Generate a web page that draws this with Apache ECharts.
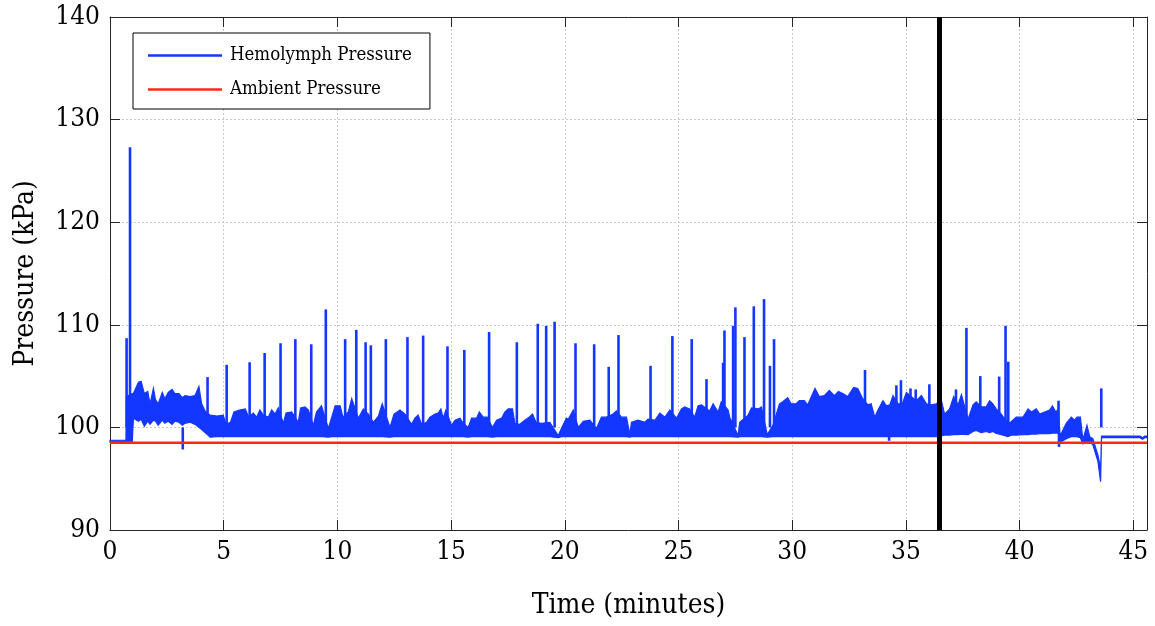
<!DOCTYPE html>
<html><head><meta charset="utf-8">
<script src="https://cdn.jsdelivr.net/npm/echarts@6/dist/echarts.min.js"></script>
<style>html,body{margin:0;padding:0;background:#fff}#c{width:1155px;height:626px}</style>
</head><body><div id="c"></div>
<script>
// Hemolymph pressure: band envelope (time in minutes, kPa)
const bandTime = [0.0,0.70,0.72,0.98,1.03,1.25,1.37,1.51,1.66,1.76,1.91,2.0,2.12,2.3,2.41,2.56,2.73,2.85,3.03,3.18,3.3,3.52,3.74,3.91,4.03,4.18,4.33,
4.4,4.7,4.98,5.1,5.3,5.45,5.7,5.95,6.1,6.3,6.45,6.59,6.74,6.96,7.11,7.26,7.4,7.62,7.74,7.99,8.28,8.38,8.57,8.72,8.94,9.08,9.3,9.6,9.75,9.9,
10.12,10.24,10.48,10.63,10.92,11.14,11.36,11.58,11.8,11.97,12.31,12.49,12.75,12.97,13.26,13.41,13.55,13.7,13.92,14.07,14.29,14.43,14.55,14.65,14.77,
15.02,15.17,15.39,15.53,15.75,15.9,16.12,16.24,16.41,16.59,16.82,17.0,17.22,17.36,17.51,17.7,17.8,18.02,18.24,18.43,18.58,18.73,18.97,19.34,19.71,19.85,
20.07,20.15,20.37,20.59,20.81,21.1,21.39,21.61,21.83,22.12,22.27,22.49,22.71,22.86,22.93,23.22,23.52,23.66,23.96,24.18,24.4,24.62,24.91,
25.13,25.27,25.49,25.71,25.86,26.01,26.37,26.52,26.74,26.88,27.18,27.25,27.62,27.69,28.06,28.21,28.5,28.65,28.9,29.15,29.44,29.58,29.8,29.95,
30.17,30.31,30.53,30.68,30.82,31.0,31.19,31.41,31.63,31.85,32.03,32.22,32.44,32.7,32.88,33.1,33.33,33.47,33.63,33.77,33.99,34.14,34.29,34.43,34.65,34.84,
35.02,35.24,35.46,35.68,35.9,36.12,36.34,36.56,36.7,36.92,37.1,37.29,37.44,37.73,37.95,38.09,38.31,38.53,38.68,38.82,38.97,39.19,39.48,39.63,39.85,
40.15,40.37,40.52,40.73,40.88,41.1,41.32,41.44,41.59,41.7,41.76,41.83,42.05,42.27,42.42,42.52,42.67,42.78,42.96,43.08,43.22,43.44,43.56,43.6,
45.3,45.4,45.5,45.6];
const bandHigh = [98.75,98.75,103.0,103.3,103.3,104.4,104.5,103.3,103.5,102.3,103.8,102.7,102.3,103.4,102.8,103.4,103.7,103.3,103.3,102.9,103.1,103.0,103.1,104.0,102.3,101.6,101.3,
101.2,101.1,101.2,100.3,100.5,101.5,101.7,101.8,101.0,101.4,101.0,101.7,101.2,101.0,101.7,101.3,101.9,100.4,101.4,101.5,100.5,101.9,102.0,101.7,100.2,101.5,102.1,99.9,101.0,102.1,
102.1,101.0,101.5,102.8,100.9,101.8,101.3,100.5,101.1,102.3,100.0,101.3,101.7,101.3,100.3,100.9,101.2,100.3,100.5,101.0,101.3,101.4,101.8,100.9,101.7,
100.2,100.7,100.9,100.4,100.0,100.9,100.9,101.5,101.0,101.0,100.0,100.7,100.9,101.5,101.8,101.8,100.4,100.3,100.7,101.0,101.3,100.5,100.4,100.5,99.2,99.9,
100.9,100.8,101.7,100.0,100.6,100.7,99.9,101.0,101.0,101.3,101.6,101.0,101.0,99.3,100.5,100.7,100.5,100.8,100.7,101.4,101.0,101.7,100.9,
101.8,102.0,101.8,101.0,102.1,102.2,101.6,102.3,101.5,102.5,101.7,101.0,99.2,100.5,101.2,101.9,101.8,102.0,99.3,100.2,102.3,102.5,102.9,102.3,
102.3,102.6,102.6,102.2,102.9,103.8,103.0,103.1,103.6,103.1,103.5,103.3,103.0,103.9,103.8,102.8,102.2,102.3,101.0,101.7,102.6,102.1,102.2,103.1,102.3,102.3,
103.4,103.0,102.6,103.1,102.3,102.2,102.3,102.6,101.3,101.8,103.0,102.2,103.2,100.8,102.2,102.5,102.0,102.0,102.6,102.3,101.8,101.3,100.4,100.55,101.0,
101.0,101.8,101.5,101.8,101.3,101.5,101.7,102.1,101.5,101.8,99.4,99.4,100.4,101.0,100.7,101.0,101.0,98.8,100.2,99.1,98.9,97.3,96.0,99.15,
99.15,99.0,99.15,99.15];
const bandLow = [98.55,98.55,98.6,98.6,100.9,100.6,100.8,100.1,100.6,100.3,100.7,100.6,100.2,100.7,100.4,100.6,100.3,100.6,100.5,100.2,100.4,100.5,100.3,100.0,99.8,99.5,99.2,
99.05,99.1,99.1,99.1,99.1,99.1,99.1,99.1,99.1,99.1,99.1,99.1,99.1,99.1,99.1,99.1,99.1,99.1,99.1,99.1,99.1,99.1,99.1,99.1,99.1,99.1,99.1,99.05,99.1,99.1,
99.1,99.1,99.1,99.1,99.1,99.1,99.1,99.1,99.1,99.1,99.05,99.1,99.1,99.1,99.1,99.1,99.1,99.1,99.1,99.1,99.1,99.1,99.1,99.1,99.1,
99.1,99.1,99.1,99.1,99.05,99.1,99.1,99.1,99.1,99.1,99.05,99.1,99.1,99.1,99.1,99.1,99.1,99.1,99.1,99.1,99.1,99.1,99.1,99.1,99.0,99.1,
99.1,99.1,99.1,99.1,99.1,99.1,99.1,99.1,99.1,99.1,99.1,99.1,99.1,99.05,99.1,99.1,99.1,99.1,99.1,99.1,99.1,99.1,99.1,
99.1,99.1,99.1,99.1,99.1,99.1,99.1,99.1,99.1,99.1,99.1,99.1,99.05,99.1,99.1,99.1,99.1,99.1,99.05,99.1,99.1,99.1,99.1,99.1,
99.1,99.1,99.1,99.1,99.1,99.1,99.1,99.1,99.1,99.1,99.1,99.1,99.1,99.1,99.1,99.1,99.1,99.1,99.1,99.1,99.1,99.1,99.1,99.1,99.1,99.1,
99.1,99.1,99.1,99.1,99.1,99.1,99.1,99.2,99.25,99.25,99.3,99.3,99.35,99.3,99.6,99.7,99.5,99.6,99.5,99.6,99.4,99.3,99.1,99.25,99.25,
99.3,99.3,99.35,99.35,99.4,99.4,99.4,99.45,99.45,99.45,98.6,98.6,98.9,99.1,99.1,99.1,99.0,98.4,98.6,98.6,98.3,96.7,94.7,99.0,
99.0,98.85,99.0,99.0];
// Hemolymph pressure: narrow peaks (and dips)
const spikeTime = [0.73,0.88,3.2,4.29,5.13,6.14,6.8,7.5,8.15,8.85,9.49,10.34,10.83,11.24,11.47,12.13,13.08,13.77,14.84,15.58,16.67,17.89,18.81,19.18,19.55,
20.47,21.29,21.93,22.36,23.77,24.73,25.58,26.23,26.96,27.02,27.4,27.5,27.9,28.31,28.76,29.02,29.2,33.2,34.26,34.58,34.78,35.2,35.43,36.03,37.2,37.66,38.27,39.1,39.38,39.5,41.71,41.73,43.59];
const spikePeak = [108.7,127.3,97.85,104.9,106.1,106.35,107.25,108.2,108.6,108.1,111.5,108.6,109.5,108.3,108.0,108.6,108.8,108.95,107.9,107.55,109.3,108.3,110.1,109.9,110.3,
108.2,108.1,105.9,109.0,106.0,108.9,108.6,104.7,106.3,109.45,109.9,111.7,108.8,111.8,112.5,106.0,108.6,105.6,98.7,104.1,104.6,103.8,103.7,104.2,103.7,109.7,105.0,104.95,109.9,106.4,102.6,98.1,103.8];
const spikeBase = 100;
// Ambient pressure
const ambientTime = [0, 10, 20, 30, 40, 45.6];
const ambientValue = [98.5, 98.5, 98.5, 98.5, 98.5, 98.5];
// Event marker
const eventTime = 36.45;
// Axes
const xMin = 0, xMax = 45.6, xStep = 5;
const yMin = 90, yMax = 140, yStep = 10;

const FONT = "'DejaVu Serif Condensed','DejaVu Serif',serif";
const BLUE = '#1437ff';
const RED = '#ff2a10';
const AX = '#262626';
const GRID = '#c9c9c9';

const chart = echarts.init(document.getElementById('c'), null, {renderer: 'canvas'});
const nBand = Math.min(bandTime.length, bandHigh.length, bandLow.length);
const bandData = [];
for (let i = 0; i < nBand; i++) bandData.push([bandTime[i], bandLow[i], bandHigh[i]]);
const spikeData = spikeTime.map((t, i) => [t, spikePeak[i]]);
const ambData = ambientTime.map((t, i) => [t, ambientValue[i]]);

const axisCommon = {
  axisLine: {show: true, onZero: false, lineStyle: {color: AX, width: 1}},
  axisTick: {show: true, inside: true, length: 10, lineStyle: {color: AX, width: 1}}
};

chart.setOption({
  animation: false,
  backgroundColor: '#fff',
  grid: {left: 110, right: 8, top: 17, bottom: 96, containLabel: false},
  legend: {
    data: [{name: 'Hemolymph Pressure', itemStyle: {color: BLUE}}, {name: 'Ambient Pressure', itemStyle: {color: RED}}],
    orient: 'vertical', left: 133, top: 33,
    icon: 'rect', itemWidth: 74, itemHeight: 2.5, itemGap: 15,
    padding: [13, 18, 10, 15],
    borderColor: '#000', borderWidth: 1, backgroundColor: '#fff',
    selectedMode: false,
    textStyle: {fontFamily: FONT, fontSize: 18.5, color: '#000', padding: [0, 0, 0, 3]}
  },
  xAxis: [
    Object.assign({
      type: 'value', min: xMin, max: xMax, interval: xStep, position: 'bottom',
      axisLabel: {fontFamily: FONT, fontSize: 26, color: '#000', margin: 9, showMaxLabel: false,
        formatter: v => (v % xStep === 0 ? String(v) : '')},
      splitLine: {show: true, lineStyle: {color: GRID, type: [2, 2], width: 1}},
      name: 'Time (minutes)', nameLocation: 'middle', nameGap: 62,
      nameTextStyle: {fontFamily: FONT, fontSize: 28, color: '#000'}
    }, axisCommon),
    Object.assign({
      type: 'value', min: xMin, max: xMax, interval: xStep, position: 'top',
      axisLabel: {show: false}, splitLine: {show: false}
    }, axisCommon)
  ],
  yAxis: [
    Object.assign({
      type: 'value', min: yMin, max: yMax, interval: yStep, position: 'left',
      axisLabel: {fontFamily: FONT, fontSize: 26, color: '#000', margin: 10},
      splitLine: {show: true, lineStyle: {color: GRID, type: [2, 2], width: 1}},
      name: 'Pressure (kPa)', nameLocation: 'middle', nameGap: 70, nameRotate: 90,
      nameTextStyle: {fontFamily: FONT, fontSize: 28, color: '#000'}
    }, axisCommon),
    Object.assign({
      type: 'value', min: yMin, max: yMax, interval: yStep, position: 'right',
      axisLabel: {show: false}, splitLine: {show: false}
    }, axisCommon)
  ],
  series: [
    {
      name: 'Hemolymph Pressure', type: 'custom', data: bandData, silent: true, color: BLUE,
      encode: {x: 0, y: [1, 2]}, z: 2,
      renderItem: function (params, api) {
        if (params.dataIndex !== 0) return null;
        const pts = [];
        for (let i = 0; i < bandData.length; i++) pts.push(api.coord([bandData[i][0], bandData[i][2]]));
        for (let i = bandData.length - 1; i >= 0; i--) pts.push(api.coord([bandData[i][0], bandData[i][1]]));
        return {type: 'polygon', shape: {points: pts},
          style: {fill: BLUE, stroke: BLUE, lineWidth: 1.2, lineJoin: 'miter'}};
      }
    },
    {
      name: 'Hemolymph Pressure', type: 'custom', data: spikeData, silent: true, color: BLUE,
      encode: {x: 0, y: 1}, z: 3,
      renderItem: function (params, api) {
        const p0 = api.coord([api.value(0), spikeBase]);
        const p1 = api.coord([api.value(0), api.value(1)]);
        return {type: 'line', shape: {x1: p0[0], y1: p0[1], x2: p1[0], y2: p1[1]},
          style: {stroke: BLUE, lineWidth: 2.6, lineCap: 'butt'}};
      }
    },
    {
      name: 'Ambient Pressure', type: 'line', data: ambData, symbol: 'none', silent: true,
      color: RED, lineStyle: {color: RED, width: 2.5}, z: 4,
      markLine: {
        silent: true, symbol: ['none', 'none'], label: {show: false},
        lineStyle: {color: '#000', width: 5, type: 'solid'},
        data: [{xAxis: eventTime}]
      }
    }
  ]
});
</script>
</body></html>
